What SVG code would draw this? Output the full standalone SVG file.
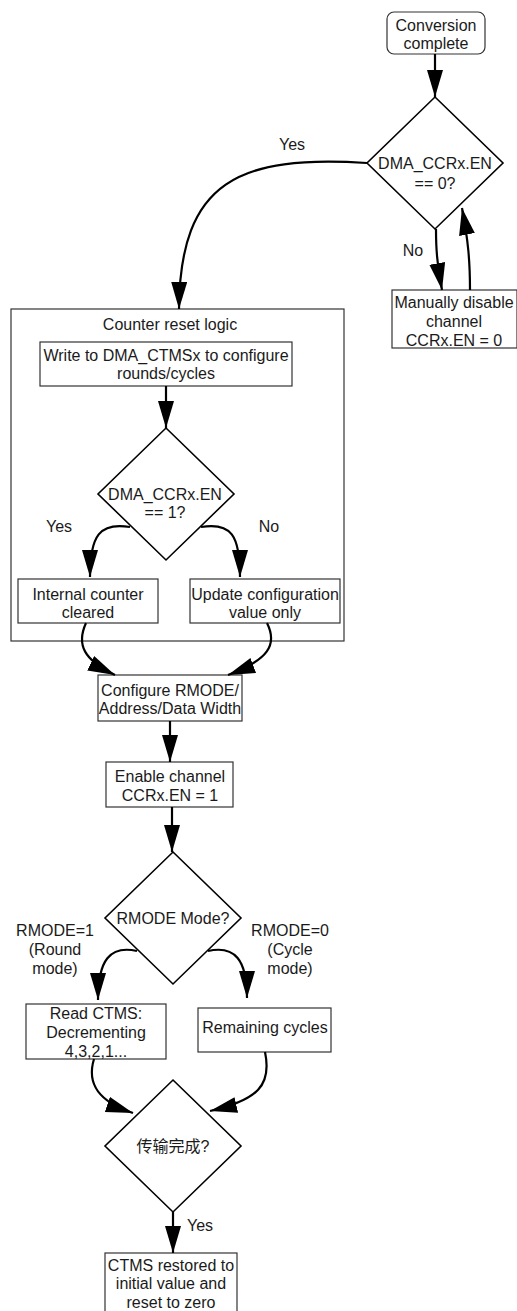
<svg xmlns="http://www.w3.org/2000/svg" width="517" height="1311" viewBox="0 0 517 1311">
<style>
text{font-family:"Liberation Sans","Noto Sans CJK SC",sans-serif;font-size:16px;fill:#1a1a1a;text-anchor:middle}
.box{fill:#fff;stroke:#333;stroke-width:1.2}
.dia{fill:#fff;stroke:#000;stroke-width:1.6}
.con{fill:none;stroke:#000;stroke-width:2.2}
</style>
<defs>
<marker id="ah" markerUnits="userSpaceOnUse" markerWidth="28" markerHeight="18" refX="27" refY="8" orient="auto">
<path d="M0,0 L27,8 L0,16 Z" fill="#000"/>
</marker>
</defs>
<g id="container">
<rect x="11" y="309" width="333" height="332" fill="#fff" stroke="#333" stroke-width="1.2"/>
<text x="170" y="330">Counter reset logic</text>
</g>
<g id="start">
<rect class="box" x="387" y="12" width="98" height="42" rx="7" stroke="#000"/>
<text x="436" y="31">Conversion</text>
<text x="436" y="49">complete</text>
</g>
<g id="d1">
<polygon class="dia" points="435,97 503,163 435,229 367,163"/>
<text x="435" y="169">DMA_CCRx.EN</text>
<text x="435" y="189">== 0?</text>
</g>
<g id="disable">
<rect class="box" x="392" y="290" width="125" height="58"/>
<text x="454" y="308">Manually disable</text>
<text x="454" y="327">channel</text>
<text x="454" y="346">CCRx.EN = 0</text>
</g>
<g id="write">
<rect class="box" x="40" y="342" width="252" height="44"/>
<text x="166" y="361">Write to DMA_CTMSx to configure</text>
<text x="166" y="379">rounds/cycles</text>
</g>
<g id="d2">
<polygon class="dia" points="166,428 234,494 166,560 98,494"/>
<text x="165" y="500">DMA_CCRx.EN</text>
<text x="165" y="518">== 1?</text>
</g>
<g id="cleared">
<rect class="box" x="18" y="579" width="140" height="44"/>
<text x="88" y="600">Internal counter</text>
<text x="88" y="618">cleared</text>
</g>
<g id="update">
<rect class="box" x="190" y="579" width="150" height="44"/>
<text x="265" y="600">Update configuration</text>
<text x="265" y="618">value only</text>
</g>
<g id="configure">
<rect class="box" x="98" y="675" width="144" height="46"/>
<text x="170" y="696">Configure RMODE/</text>
<text x="170" y="714">Address/Data Width</text>
</g>
<g id="enable">
<rect class="box" x="106" y="762" width="127" height="45"/>
<text x="170" y="782">Enable channel</text>
<text x="170" y="801">CCRx.EN = 1</text>
</g>
<g id="d3">
<polygon class="dia" points="173,852 241,918 173,984 105,918"/>
<text x="173" y="924">RMODE Mode?</text>
</g>
<g id="readctms">
<rect class="box" x="26" y="1004" width="140" height="55"/>
<text x="96" y="1019">Read CTMS:</text>
<text x="96" y="1038">Decrementing</text>
<text x="96" y="1057">4,3,2,1...</text>
</g>
<g id="remaining">
<rect class="box" x="198" y="1008" width="133" height="44"/>
<text x="265" y="1033">Remaining cycles</text>
</g>
<g id="d4">
<polygon class="dia" points="173,1080 241,1146 173,1212 105,1146"/>
<text x="173" y="1152">传输完成?</text>
</g>
<g id="restore">
<rect class="box" x="105" y="1253" width="132" height="70"/>
<text x="171" y="1271">CTMS restored to</text>
<text x="171" y="1289">initial value and</text>
<text x="171" y="1308">reset to zero</text>
</g>
<g id="connectors">
<path class="con" d="M435,54 L435,97" marker-end="url(#ah)"/>
<path class="con" d="M367,163 C240,155 180,180 179,309" marker-end="url(#ah)"/>
<path class="con" d="M436,229 C436,250 437,262 442,290" marker-end="url(#ah)"/>
<path class="con" d="M470,290 C470,260 468,240 462,208" marker-end="url(#ah)"/>
<path class="con" d="M166,386 L166,428" marker-end="url(#ah)"/>
<path class="con" d="M130,527 C100,522 90,535 90,577" marker-end="url(#ah)"/>
<path class="con" d="M201,527 C231,522 240,535 240,577" marker-end="url(#ah)"/>
<path class="con" d="M86,623 C76,645 84,660 115,675" marker-end="url(#ah)"/>
<path class="con" d="M267,623 C278,645 268,660 228,675" marker-end="url(#ah)"/>
<path class="con" d="M170,721 L170,762" marker-end="url(#ah)"/>
<path class="con" d="M172,807 L172,852" marker-end="url(#ah)"/>
<path class="con" d="M137,951 C110,945 98,960 98,1000" marker-end="url(#ah)"/>
<path class="con" d="M208,951 C235,945 247,960 247,998" marker-end="url(#ah)"/>
<path class="con" d="M94,1059 C86,1085 100,1102 133,1113" marker-end="url(#ah)"/>
<path class="con" d="M265,1052 C272,1085 258,1100 210,1111" marker-end="url(#ah)"/>
<path class="con" d="M173,1212 L173,1253" marker-end="url(#ah)"/>
<text x="292" y="150">Yes</text>
<text x="413" y="256">No</text>
<text x="59" y="532">Yes</text>
<text x="269" y="532">No</text>
<text x="55" y="936">RMODE=1</text>
<text x="55" y="955">(Round</text>
<text x="55" y="974">mode)</text>
<text x="290" y="936">RMODE=0</text>
<text x="290" y="955">(Cycle</text>
<text x="290" y="974">mode)</text>
<text x="200" y="1231">Yes</text>
</g>
</svg>
